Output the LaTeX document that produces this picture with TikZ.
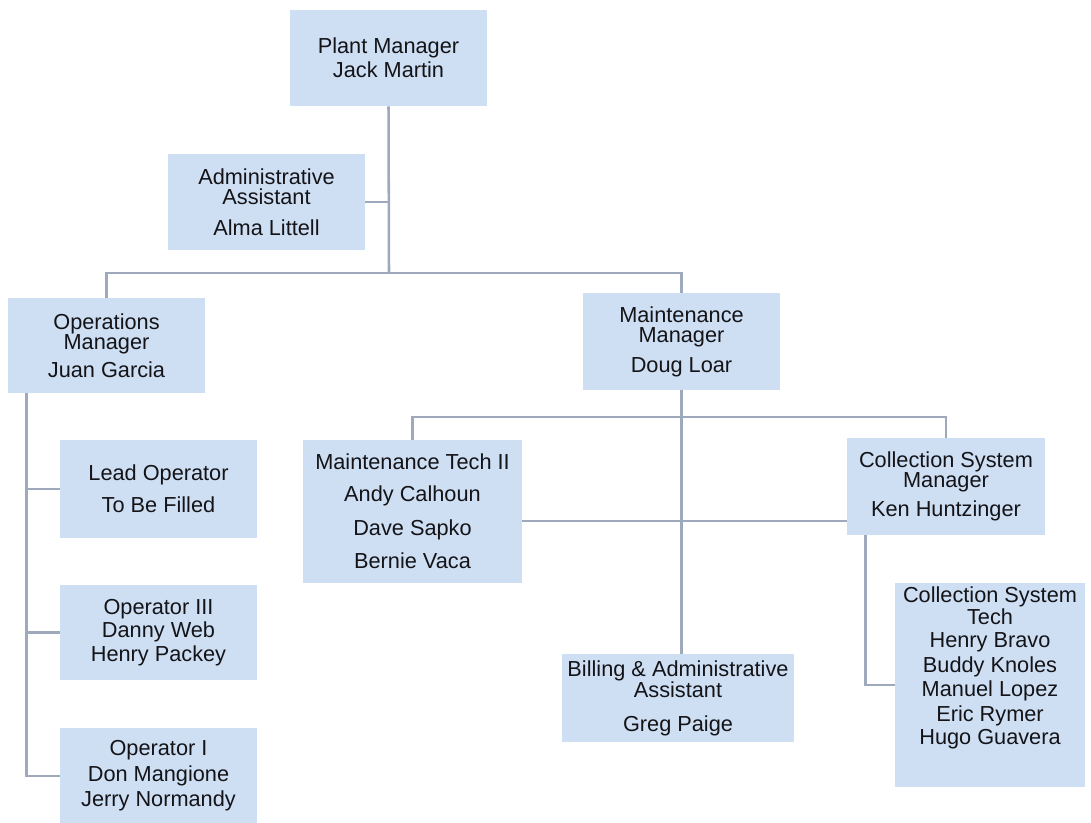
\documentclass[tikz,border=0pt]{standalone}
\usepackage{fontspec}
\setmainfont{Liberation Sans}

\definecolor{boxblue}{RGB}{206,223,243}
\definecolor{linegray}{RGB}{158,170,188}
\definecolor{inkgray}{RGB}{20,20,24}

\tikzset{
	box/.style 2 args={fill=boxblue, text=inkgray, align=center, inner sep=0pt,
		minimum width=#1*0.75pt, minimum height=#2*0.75pt,
		font=\fontsize{16.3}{15}\selectfont},
	link/.style={draw=linegray, line width=1.9pt},
}

\begin{document}
\begin{tikzpicture}[x=0.75pt,y=0.75pt,yscale=-1,xscale=1]
	\useasboundingbox (0,0) rectangle (1091,823);
	
	% Top level
	\node[box={197}{96}] (plant) at (388.5,58) {Plant Manager\\[1.5pt]Jack Martin};
	\node[box={197}{96}] (admin) at (266.5,202) {Administrative\\Assistant\\[8pt]Alma Littell};
	\node[box={197}{95}] (ops) at (106.5,345.5) {Operations\\Manager\\[4.5pt]Juan Garcia};
	\node[box={197}{97}] (maint) at (681.5,341.5) {Maintenance\\Manager\\[7.5pt]Doug Loar};
	
	% Operations staff
	\node[box={197}{98}] (lead) at (158.5,489) {Lead Operator\\[7.5pt]To Be Filled};
	\node[box={197}{95}] (opthree) at (158.5,632.5) {Operator III\\[1.5pt]Danny Web\\[1.5pt]Henry Packey};
	\node[box={197}{96}] (opone) at (158.5,776) {Operator I\\[3pt]Don Mangione\\[3pt]Jerry Normandy};
	
	% Maintenance staff
	\node[box={219}{143}] (tech) at (412.5,511.5) {Maintenance Tech II\\[9pt]Andy Calhoun\\[9pt]Dave Sapko\\[9pt]Bernie Vaca};
	\node[box={198}{97}] (csm) at (946,486.5) {Collection System\\Manager\\[5pt]Ken Huntzinger};
	\node[box={190}{204}] (cst) at (990,685) {Collection System\\Tech\\[2.25pt]Henry Bravo\\[2.25pt]Buddy Knoles\\[2.25pt]Manuel Lopez\\[2.25pt]Eric Rymer\\[2.25pt]Hugo Guavera\\[14pt]\mbox{}};
	\node[box={232}{88}] (billing) at (678,698) {Billing \& Administrative\\Assistant\\[10pt]Greg Paige};
	
	% Connectors
	\coordinate (topbar) at (389,273);
	\coordinate (maintbar) at (682,417);
	\coordinate (optrunk) at ([xshift=14.25pt]ops.south west);
	\coordinate (cstrunk) at ([xshift=14.25pt]csm.south west);
	
	\draw[link] (plant.south) -- (topbar);
	\draw[link] (admin.east) -- (admin.east -| plant.south);
	\draw[link] (ops.north) -- (ops.north |- topbar) -- (maint.north |- topbar) -- (maint.north);
	
	\draw[link] (optrunk) |- (opone.west);
	\draw[link] (optrunk |- lead.west) -- (lead.west);
	\draw[link] (optrunk |- opthree.west) -- (opthree.west);
	
	\draw[link] (maint.south) -- (maint.south |- billing.north);
	\draw[link] (tech.north) -- (tech.north |- maintbar) -- (csm.north |- maintbar) -- (csm.north);
	\draw[link] ([yshift=7pt]tech.east) -- ([yshift=7pt]tech.east -| csm.west);
	\draw[link] (cstrunk) |- (cst.west);
	
\end{tikzpicture}
\end{document}
